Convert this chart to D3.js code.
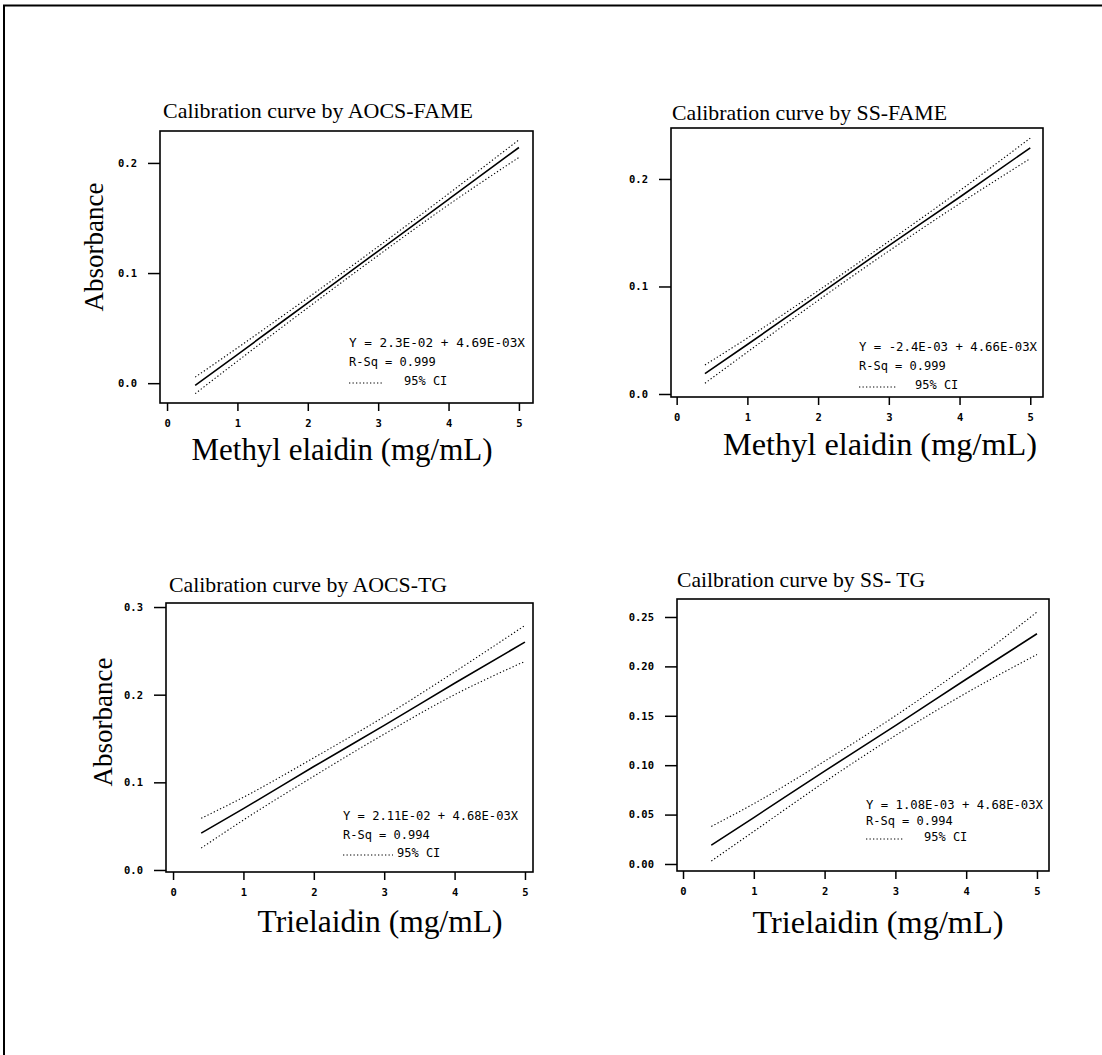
<!DOCTYPE html>
<html>
<head>
<meta charset="utf-8">
<script src="https://cdn.jsdelivr.net/npm/d3@7"></script>
<style>
  html, body { margin: 0; padding: 0; background: #fff; }
  svg { display: block; }
</style>
</head>
<body>
<div id="chart"></div>
<script>
// Calibration curves: absorbance vs concentration, four methods
// Values

const xStd = [0.4, 1, 2, 3, 4, 5];

const titles = [
    'Calibration curve by AOCS-FAME',
    'Calibration curve by SS-FAME',
    'Calibration curve by AOCS-TG',
    'Cailbration curve by SS- TG'
];
const xTitles = ['Methyl elaidin (mg/mL)', 'Methyl elaidin (mg/mL)', 'Trielaidin (mg/mL)', 'Trielaidin (mg/mL)'];
const equations = [
    'Y =  2.3E-02 + 4.69E-03X',
    'Y = -2.4E-03 + 4.66E-03X',
    'Y = 2.11E-02 + 4.68E-03X',
    'Y = 1.08E-03 + 4.68E-03X'
];
const rSquared = ['R-Sq = 0.999', 'R-Sq = 0.999', 'R-Sq = 0.994', 'R-Sq = 0.994'];

const xTicks = [0, 1, 2, 3, 4, 5];
const yTicksFame = [0.0, 0.1, 0.2];
const yTicksAocsTg = [0.0, 0.1, 0.2, 0.3];
const yTicksSsTg = [0.00, 0.05, 0.10, 0.15, 0.20, 0.25];

// fitted line and 95% CI at the standards
const fitAocsFame = [-0.002, 0.026, 0.073, 0.120, 0.167, 0.214];
const upAocsFame  = [0.0055, 0.032, 0.0775, 0.124, 0.172, 0.221];
const loAocsFame  = [-0.0095, 0.020, 0.0685, 0.116, 0.162, 0.205];

const fitSsFame = [0.019, 0.046, 0.092, 0.138, 0.183, 0.229];
const upSsFame  = [0.027, 0.052, 0.096, 0.142, 0.189, 0.238];
const loSsFame  = [0.010, 0.039, 0.087, 0.133, 0.177, 0.219];

const fitAocsTg = [0.042, 0.070, 0.118, 0.165, 0.213, 0.260];
const upAocsTg  = [0.059, 0.083, 0.128, 0.175, 0.226, 0.279];
const loAocsTg  = [0.025, 0.057, 0.107, 0.155, 0.200, 0.238];

const fitSsTg = [0.019, 0.047, 0.094, 0.140, 0.187, 0.233];
const upSsTg  = [0.038, 0.061, 0.104, 0.150, 0.200, 0.255];
const loSsTg  = [0.003, 0.033, 0.083, 0.130, 0.173, 0.212];

const W = 1102, H = 1055;
const SERIF = '"Liberation Serif", "Times New Roman", Times, serif';
const MONO = '"DejaVu Sans Mono", "Liberation Mono", monospace';

const svg = d3.select('#chart').append('svg')
    .attr('width', W)
    .attr('height', H);

// page border (top + left only, like the scan)
svg.append('line')
    .attr('x1', 3).attr('x2', W).attr('y1', 5.5).attr('y2', 5.5)
    .attr('stroke', '#000').attr('stroke-width', 2);
svg.append('line')
    .attr('x1', 4).attr('x2', 4).attr('y1', 5).attr('y2', H)
    .attr('stroke', '#000').attr('stroke-width', 2);

const panels = [
    { frame: [160, 131, 533, 403], xDom: [-0.1, 5.2], yDom: [-0.018, 0.229], yTicks: yTicksFame, yFmt: d3.format('.1f'),
      fit: fitAocsFame, up: upAocsFame, lo: loAocsFame,
      title: [163, 118], xTitle: [342, 460, 301], yTitle: [103, 247], legend: [349, 343, 176], ciLen: 35, ciGap: 20 },
    { frame: [671, 128, 1043, 397], xDom: [-0.08, 5.18], yDom: [-0.0028, 0.2474], yTicks: yTicksFame, yFmt: d3.format('.1f'),
      fit: fitSsFame, up: upSsFame, lo: loSsFame,
      title: [672, 120], xTitle: [880, 455, 314], yTitle: null, legend: [859, 347, 178], ciLen: 38, ciGap: 18 },
    { frame: [166, 603, 533, 872], xDom: [-0.1, 5.114], yDom: [-0.0023, 0.3046], yTicks: yTicksAocsTg, yFmt: d3.format('.1f'),
      fit: fitAocsTg, up: upAocsTg, lo: loAocsTg,
      title: [169, 592], xTitle: [380, 932, 245], yTitle: [112, 722], legend: [343, 816, 175], ciLen: 50, ciGap: 4 },
    { frame: [677, 599, 1049, 871], xDom: [-0.085, 5.17], yDom: [-0.0071, 0.2682], yTicks: yTicksSsTg, yFmt: d3.format('.2f'),
      fit: fitSsTg, up: upSsTg, lo: loSsTg,
      title: [677, 587], xTitle: [878, 933, 251], yTitle: null, legend: [866, 805, 177], ciLen: 38, ciGap: 20 }
];

const titleWidths = [310, 275, 278, 248];

panels.forEach((p, i) => {
    const [x0, y0, x1, y1] = p.frame;
    const g = svg.append('g');

    const x = d3.scaleLinear().domain(p.xDom).range([x0, x1]);
    const y = d3.scaleLinear().domain(p.yDom).range([y1, y0]);

    // frame
    g.append('rect')
        .attr('x', x0).attr('y', y0)
        .attr('width', x1 - x0).attr('height', y1 - y0)
        .attr('fill', 'none')
        .attr('stroke', '#000')
        .attr('stroke-width', 1.6);

    // axes
    const xAxis = g.append('g')
        .attr('transform', `translate(0, ${y1})`)
        .call(d3.axisBottom(x).tickValues(xTicks).tickSize(8).tickPadding(8.5).tickFormat(d3.format('d')));
    const yAxis = g.append('g')
        .attr('transform', `translate(${x0}, 0)`)
        .call(d3.axisLeft(y).tickValues(p.yTicks).tickSize(12).tickPadding(11).tickFormat(p.yFmt));

    [xAxis, yAxis].forEach(ax => {
        ax.select('.domain').remove();
        ax.selectAll('line').attr('stroke', '#000').attr('stroke-width', 1.5);
        ax.selectAll('text')
            .attr('fill', '#000')
            .style('font-family', MONO)
            .style('font-size', '10.5px')
            .style('font-weight', '700');
    });

    // lines
    const line = d3.line()
        .x((d, k) => x(xStd[k]))
        .y(d => y(d))
        .curve(d3.curveMonotoneX);

    g.append('path')
        .datum(p.up)
        .attr('d', line)
        .attr('fill', 'none')
        .attr('stroke', '#000')
        .attr('stroke-width', 1.1)
        .attr('stroke-dasharray', '1.3,2.2');

    g.append('path')
        .datum(p.lo)
        .attr('d', line)
        .attr('fill', 'none')
        .attr('stroke', '#000')
        .attr('stroke-width', 1.1)
        .attr('stroke-dasharray', '1.3,2.2');

    g.append('path')
        .datum(p.fit)
        .attr('d', line)
        .attr('fill', 'none')
        .attr('stroke', '#000')
        .attr('stroke-width', 1.6);

    // title
    g.append('text')
        .attr('x', p.title[0])
        .attr('y', p.title[1])
        .attr('textLength', titleWidths[i])
        .attr('lengthAdjust', 'spacingAndGlyphs')
        .style('font-family', SERIF)
        .style('font-size', '21px')
        .style('fill', '#000')
        .text(titles[i]);

    // x title
    g.append('text')
        .attr('x', p.xTitle[0] - p.xTitle[2] / 2)
        .attr('y', p.xTitle[1])
        .attr('textLength', p.xTitle[2])
        .attr('lengthAdjust', 'spacingAndGlyphs')
        .style('font-family', SERIF)
        .style('font-size', '31px')
        .style('fill', '#000')
        .text(xTitles[i]);

    // y title
    if (p.yTitle) {
        g.append('text')
            .attr('transform', `translate(${p.yTitle[0]}, ${p.yTitle[1]}) rotate(-90)`)
            .attr('text-anchor', 'middle')
            .style('font-family', SERIF)
            .style('font-size', '27px')
            .style('fill', '#000')
            .text('Absorbance');
    }

    // legend
    const [lx, ly, lw] = p.legend;
    const rowGap = i === 3 ? 16 : (i === 2 ? 18.5 : 19);
    const leg = g.append('g')
        .style('font-family', MONO)
        .style('font-size', '12px')
        .style('fill', '#000')
        .style('white-space', 'pre');

    leg.append('text')
        .attr('x', lx).attr('y', ly + 4)
        .attr('textLength', lw)
        .attr('lengthAdjust', 'spacingAndGlyphs')
        .text(equations[i]);

    leg.append('text')
        .attr('x', lx).attr('y', ly + rowGap + 4)
        .text(rSquared[i]);

    leg.append('line')
        .attr('x1', lx).attr('x2', lx + p.ciLen)
        .attr('y1', ly + 2 * rowGap + 2).attr('y2', ly + 2 * rowGap + 2)
        .attr('stroke', '#000')
        .attr('stroke-width', 1)
        .attr('stroke-dasharray', '1.3,2.2');

    leg.append('text')
        .attr('x', lx + p.ciLen + p.ciGap)
        .attr('y', ly + 2 * rowGap + 4)
        .text('95% CI');
});
</script>
</body>
</html>
